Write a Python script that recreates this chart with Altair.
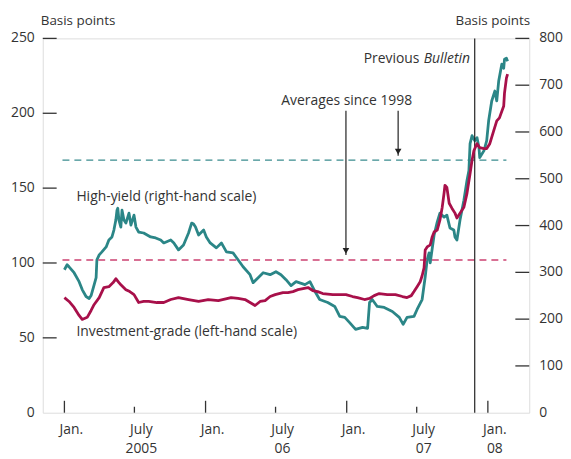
import altair as alt
import pandas as pd

# Investment-grade spread (left-hand scale, basis points)
ig_dates = ["2005-01-01","2005-01-13","2005-01-26","2005-02-08","2005-02-16","2005-03-01","2005-03-11","2005-03-19",
            "2005-04-01","2005-04-13","2005-04-26","2005-05-07","2005-05-14","2005-05-22","2005-05-27","2005-06-09",
            "2005-06-19","2005-06-30","2005-07-12","2005-07-25","2005-08-07","2005-08-28","2005-09-15","2005-10-03",
            "2005-10-23","2005-11-18","2005-12-14","2006-01-08","2006-02-03","2006-03-08","2006-03-26","2006-04-13",
            "2006-04-26","2006-05-09","2006-05-22","2006-06-04","2006-06-17","2006-06-30","2006-07-20","2006-08-02",
            "2006-08-15","2006-08-28","2006-09-10","2006-09-23","2006-10-05","2006-10-18","2006-10-31","2006-11-26",
            "2006-12-30","2007-01-16","2007-01-29","2007-02-16","2007-03-01","2007-03-13","2007-03-26","2007-04-16",
            "2007-05-07","2007-05-25","2007-06-06","2007-06-17","2007-06-24","2007-07-02","2007-07-10","2007-07-15",
            "2007-07-20","2007-07-23","2007-07-28","2007-08-05","2007-08-10","2007-08-15","2007-08-23","2007-08-30",
            "2007-09-05","2007-09-10","2007-09-12","2007-09-17","2007-09-23","2007-09-30","2007-10-08","2007-10-13",
            "2007-10-21","2007-10-31","2007-11-08","2007-11-16","2007-11-21","2007-11-26","2007-12-04","2007-12-11",
            "2007-12-22","2007-12-29","2008-01-06","2008-01-16","2008-01-24","2008-01-31","2008-02-11","2008-02-13",
            "2008-02-18","2008-02-21"]
ig_values = [76.9,74.3,70.3,65.0,62.3,63.7,68.3,72.3,
             76.9,83.6,84.2,86.9,89.5,86.9,85.5,82.2,
             80.9,78.9,73.6,74.3,74.3,73.6,73.6,75.6,
             76.9,75.6,74.3,75.6,74.9,76.9,76.3,75.6,
             73.6,71.6,74.3,74.9,77.6,78.9,80.2,80.2,
             80.9,82.2,82.9,83.6,81.6,80.9,79.6,78.9,
             78.9,77.6,76.9,75.6,76.3,78.2,79.6,78.9,
             78.9,77.6,76.9,78.2,80.9,84.2,87.5,91.5,
             96.8,108.7,110.7,112.1,117.4,120.7,122.0,128.6,
             137.3,147.2,151.9,150.5,139.9,136.6,133.3,130.0,
             133.3,137.3,146.5,159.8,168.4,175.1,179.7,177.0,
             176.4,176.4,179.7,188.3,194.9,196.9,204.9,213.5,
             223.5,226.1]

# High-yield spread (right-hand scale, basis points)
hy_dates = ["2005-01-01","2005-01-08","2005-01-13","2005-01-26","2005-02-08","2005-02-16","2005-02-26","2005-03-06",
            "2005-03-11","2005-03-19","2005-03-24","2005-03-26","2005-04-01","2005-04-08","2005-04-19","2005-04-26",
            "2005-05-04","2005-05-09","2005-05-14","2005-05-17","2005-05-19","2005-05-22","2005-05-27","2005-05-30",
            "2005-06-04","2005-06-09","2005-06-17","2005-06-22","2005-06-30","2005-07-05","2005-07-12","2005-07-25",
            "2005-08-12","2005-08-25","2005-09-07","2005-09-15","2005-10-03","2005-10-11","2005-10-23","2005-11-05",
            "2005-11-18","2005-11-26","2005-12-01","2005-12-06","2005-12-14","2005-12-27","2006-01-03","2006-01-13",
            "2006-01-29","2006-02-11","2006-02-24","2006-03-13","2006-03-26","2006-04-08","2006-04-26","2006-05-04",
            "2006-05-17","2006-05-30","2006-06-17","2006-07-02","2006-07-15","2006-07-28","2006-08-10","2006-08-23",
            "2006-09-15","2006-09-28","2006-10-11","2006-10-23","2006-11-13","2006-12-01","2006-12-14","2006-12-27",
            "2007-01-08","2007-01-24","2007-02-11","2007-02-24","2007-03-01","2007-03-08","2007-03-21","2007-04-08",
            "2007-04-29","2007-05-17","2007-05-27","2007-06-06","2007-06-24","2007-07-02","2007-07-15","2007-07-23",
            "2007-07-28","2007-08-02","2007-08-05","2007-08-15","2007-08-23","2007-08-30","2007-09-10","2007-09-17",
            "2007-09-25","2007-10-05","2007-10-08","2007-10-13","2007-10-21","2007-10-31","2007-11-08","2007-11-13",
            "2007-11-16","2007-11-21","2007-11-28","2007-12-04","2007-12-09","2007-12-11","2007-12-22","2007-12-29",
            "2008-01-03","2008-01-11","2008-01-19","2008-01-24","2008-01-29","2008-02-06","2008-02-11","2008-02-13",
            "2008-02-18","2008-02-21"]
hy_values = [305.6,316.2,311.9,299.2,280.1,263.1,248.3,244.0,
             250.4,273.7,288.6,326.8,337.4,343.8,354.4,369.2,
             375.6,390.4,411.7,432.9,437.1,411.7,396.8,432.9,
             411.7,405.3,426.5,401.1,422.3,396.8,386.2,384.1,
             375.6,373.5,369.2,362.9,369.2,362.9,348.0,358.6,
             384.1,405.3,403.2,396.8,379.8,390.4,375.6,362.9,
             352.3,362.9,343.8,341.6,326.8,311.9,295.0,278.0,
             288.6,299.2,295.0,301.3,295.0,284.3,271.6,280.1,
             273.7,280.1,258.9,241.9,235.5,227.1,205.8,203.7,
             193.1,178.2,182.5,180.4,235.5,241.9,227.1,224.9,
             216.4,203.7,188.9,203.7,205.8,220.7,241.9,290.7,
             326.8,341.6,320.4,379.8,407.4,426.5,418.0,422.3,
             394.7,390.4,375.6,369.2,411.7,454.1,496.5,517.8,
             575.1,592.0,581.4,587.8,566.6,545.4,560.2,581.4,
             623.9,666.3,687.5,666.3,708.7,744.8,736.3,755.4,
             757.6,751.2]

# Averages since 1998
ig_average = 102
hy_average = 540
average_span = ["2004-12-27", "2008-02-18"]
previous_bulletin = "2007-11-28"

left_ticks = [0, 50, 100, 150, 200, 250]
right_ticks = [0, 100, 200, 300, 400, 500, 600, 700, 800]
jan_ticks = ["2005-01-01", "2006-01-01", "2007-01-01", "2008-01-01"]
july_ticks = ["2005-07-01", "2006-07-01", "2007-07-01"]
month_dates = ["2005-01-01", "2005-07-01", "2006-01-01", "2006-07-01", "2007-01-01", "2007-07-01", "2008-01-01"]
month_labels = ["Jan.", "July", "Jan.", "July", "Jan.", "July", "Jan."]
year_dates = ["2005-07-01", "2006-07-01", "2007-07-01", "2008-01-01"]
year_labels = ["2005", "06", "07", "08"]

TEAL = "#2b8687"
CRIMSON = "#a8104a"
TEAL_DASH = "#3a8c8e"
PINK_DASH = "#cc4272"
INK = "#333333"
FONT = "Open Sans"
FS = 14
W, H = 490, 377

xscale = alt.Scale(type="utc",
                   domain=[alt.DateTime(year=2004, month=11, date=6, utc=True),
                           alt.DateTime(year=2008, month=4, date=17, utc=True)])
lscale = alt.Scale(domain=[0, 250], nice=False)
rscale = alt.Scale(domain=[0, 800], nice=False)


def X(field="date"):
    return alt.X(f"{field}:T", scale=xscale, axis=None, title=None)


def YL(field="value"):
    return alt.Y(f"{field}:Q", scale=lscale, axis=None, title=None)


def YR(field="value"):
    return alt.Y(f"{field}:Q", scale=rscale, axis=None, title=None)


def txt(**kw):
    base = dict(fontSize=FS, font=FONT, color=INK, baseline="middle")
    base.update(kw)
    return base


ig = pd.DataFrame({"date": ig_dates, "value": ig_values})
hy = pd.DataFrame({"date": hy_dates, "value": hy_values})

# ---- left-hand scale group ----
ig_line = alt.Chart(ig).mark_line(color=CRIMSON, strokeWidth=2.8, strokeJoin="round").encode(
    x=X(), y=YL())

ig_avg = alt.Chart(pd.DataFrame({"start": [average_span[0]], "end": [average_span[1]],
                                 "value": [ig_average]})).mark_rule(
    color=PINK_DASH, strokeWidth=1.5, strokeDash=[7, 5]).encode(x=X("start"), x2="end:T", y=YL())

left_tick_rules = alt.Chart(pd.DataFrame({"value": left_ticks[1:]})).mark_rule(
    color=INK, strokeWidth=1.3).encode(y=YL(), x=alt.value(0), x2=alt.value(14))
left_tick_labels = alt.Chart(pd.DataFrame({"value": left_ticks})).mark_text(
    **txt(align="right")).encode(y=YL(), x=alt.value(-8), text="value:Q")
left_title = alt.Chart(pd.DataFrame({"t": ["Basis points"]})).mark_text(
    **txt(align="left", fontSize=13.5)).encode(x=alt.value(-2), y=alt.value(-17), text="t:N")

jan_rules = alt.Chart(pd.DataFrame({"date": jan_ticks})).mark_rule(color=INK, strokeWidth=1.3).encode(
    x=X(), y=alt.value(H - 12), y2=alt.value(H))
july_rules = alt.Chart(pd.DataFrame({"date": july_ticks})).mark_rule(color=INK, strokeWidth=1.3).encode(
    x=X(), y=alt.value(H - 6), y2=alt.value(H))
month_text = alt.Chart(pd.DataFrame({"date": month_dates, "t": month_labels})).mark_text(
    **txt(align="center", dx=7)).encode(x=X(), y=alt.value(H + 17), text="t:N")
year_text = alt.Chart(pd.DataFrame({"date": year_dates, "t": year_labels})).mark_text(
    **txt(align="center", dx=7)).encode(x=X(), y=alt.value(H + 37), text="t:N")

bulletin_rule = alt.Chart(pd.DataFrame({"date": [previous_bulletin]})).mark_rule(
    color="#222222", strokeWidth=1.2).encode(x=X())

arrows = pd.DataFrame({"date": ["2006-12-30", "2007-05-14"], "top": [201.6, 201.6],
                       "tip": [105.4, 171.7]})
arrow_shafts = alt.Chart(arrows).mark_rule(color="#333333", strokeWidth=1.3).encode(
    x=X(), y=YL("top"), y2="tip:Q")
arrow_heads = alt.Chart(arrows).mark_point(shape="triangle-down", filled=True, color="#222222",
                                           size=45, opacity=1, yOffset=-4).encode(x=X(), y=YL("tip"))

center_note = alt.Chart(pd.DataFrame({"date": ["2007-01-01"], "value": [208.2],
                                      "t": ["Averages since 1998"]})).mark_text(
    **txt(align="center")).encode(x=X(), y=YL(), text="t:N")
left_notes = alt.Chart(pd.DataFrame({"date": ["2005-02-01", "2005-02-01"], "value": [143.9, 53.7],
                                     "t": ["High-yield (right-hand scale)",
                                           "Investment-grade (left-hand scale)"]})).mark_text(
    **txt(align="left")).encode(x=X(), y=YL(), text="t:N")

bulletin_text = pd.DataFrame({"date": ["2007-11-16"], "value": [236.0],
                              "a": ["Previous"], "b": ["Bulletin"]})
bulletin_b = alt.Chart(bulletin_text).mark_text(**txt(align="right", fontStyle="italic")).encode(
    x=X(), y=YL(), text="b:N")
bulletin_a = alt.Chart(bulletin_text).mark_text(**txt(align="right", dx=-51)).encode(
    x=X(), y=YL(), text="a:N")

# ---- right-hand scale group ----
hy_line = alt.Chart(hy).mark_line(color=TEAL, strokeWidth=2.8, strokeJoin="round").encode(
    x=X(), y=YR())
hy_avg = alt.Chart(pd.DataFrame({"start": [average_span[0]], "end": [average_span[1]],
                                 "value": [hy_average]})).mark_rule(
    color=TEAL_DASH, strokeWidth=1.3, strokeDash=[7, 5]).encode(x=X("start"), x2="end:T", y=YR())
right_tick_rules = alt.Chart(pd.DataFrame({"value": right_ticks[1:]})).mark_rule(
    color=INK, strokeWidth=1.3).encode(y=YR(), x=alt.value(W - 14), x2=alt.value(W))
right_tick_labels = alt.Chart(pd.DataFrame({"value": right_ticks})).mark_text(
    **txt(align="left")).encode(y=YR(), x=alt.value(W + 10), text="value:Q")
right_title = alt.Chart(pd.DataFrame({"t": ["Basis points"]})).mark_text(
    **txt(align="right", fontSize=13.5)).encode(x=alt.value(W + 1), y=alt.value(-17), text="t:N")

right_group = alt.layer(hy_avg, right_tick_rules, right_tick_labels, right_title, hy_line)
left_group = alt.layer(ig_avg, left_tick_rules, left_tick_labels, left_title, jan_rules, july_rules,
                       month_text, year_text, bulletin_rule, arrow_shafts, arrow_heads, center_note,
                       left_notes, bulletin_a, bulletin_b, ig_line)

chart = alt.layer(right_group, left_group).resolve_scale(y="independent").properties(
    width=W, height=H,
    autosize=alt.AutoSizeParams(type="none"),
    padding={"left": 35, "top": 29, "right": 34, "bottom": 45},
).configure_view(stroke="#222222", strokeWidth=1.2).configure(background="white")

chart.save("out.html", embed_options={"renderer": "svg", "actions": False})
